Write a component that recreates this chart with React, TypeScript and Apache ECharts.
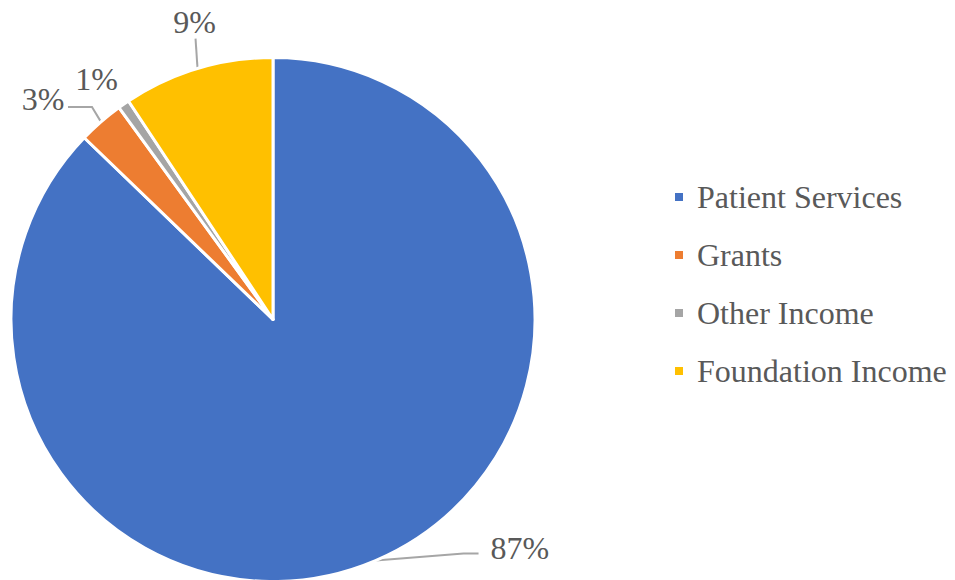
import React, { useEffect, useRef } from "react";
import * as echarts from "echarts";

const categories = ["Patient Services", "Grants", "Other Income", "Foundation Income"];
const values = [87.2, 2.8, 0.7, 9.3];
const colors = ["#4472C4", "#ED7D31", "#A5A5A5", "#FFC000"];

// label placement relative to each slice's label anchor (layout only)
const labelOffsets = [
  { lx: 115, ly: -13, align: "left", bend: [88, -7], end: [103, -7] },
  { lx: -58, ly: -23, align: "center", bend: [-9, -15], end: [-33, -15] },
  { lx: -27, ly: -25, align: "center", bend: [0, 0], end: [0, 0] },
  { lx: -3, ly: -47, align: "center", bend: [-2, -30], end: [-2, -30] },
];

export default function App() {
  const ref = useRef<HTMLDivElement>(null);
  useEffect(() => {
    document.body.style.margin = "0";
    const chart = echarts.init(ref.current!, null, { renderer: "svg" });
    const font = "Liberation Serif";
    chart.setOption({
      animation: false,
      color: colors,
      textStyle: { fontFamily: font },
      legend: {
        orient: "vertical",
        left: 668,
        top: 176,
        itemWidth: 10,
        itemHeight: 10,
        itemGap: 26,
        icon: "rect",
        textStyle: {
          fontFamily: font,
          fontSize: 32,
          color: "#595959",
          padding: [0, 0, 0, 8],
        },
        data: categories,
      },
      series: [
        {
          type: "pie",
          center: [273, 319.5],
          radius: 262,
          startAngle: 90,
          clockwise: true,
          percentPrecision: 0,
          itemStyle: { borderColor: "#ffffff", borderWidth: 3 },
          label: {
            show: true,
            position: "outside",
            formatter: "{d}%",
            fontFamily: font,
            fontSize: 32,
            color: "#595959",
          },
          labelLine: {
            show: true,
            length: 10,
            length2: 20,
            lineStyle: { color: "#A6A6A6", width: 2 },
          },
          labelLayout: (params: any) => {
            const o = labelOffsets[params.dataIndex];
            const pts = params.labelLinePoints;
            if (!pts) return {};
            const a = pts[0];
            return {
              x: a[0] + o.lx,
              y: a[1] + o.ly,
              align: o.align,
              verticalAlign: "middle",
              labelLinePoints: [
                [a[0], a[1]],
                [a[0] + o.bend[0], a[1] + o.bend[1]],
                [a[0] + o.end[0], a[1] + o.end[1]],
              ],
            };
          },
          data: categories.map((name, i) => ({ name, value: values[i] })),
        },
      ],
    });
    return () => chart.dispose();
  }, []);
  return <div ref={ref} style={{ width: 955, height: 580 }} />;
}
